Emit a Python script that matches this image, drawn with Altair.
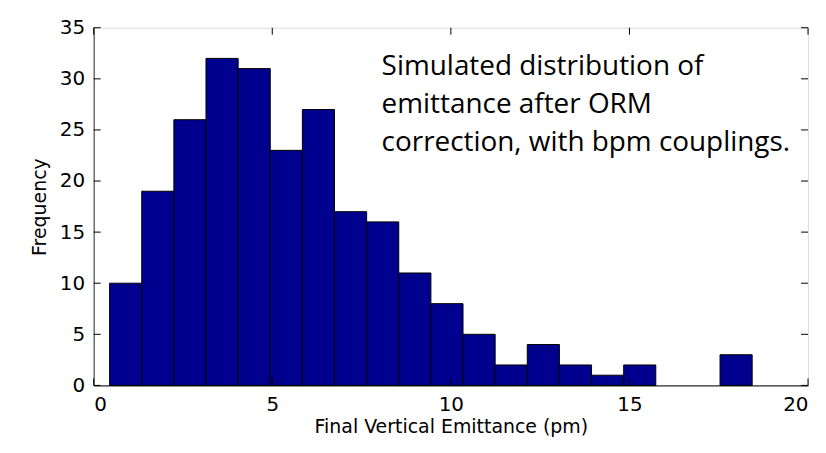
import altair as alt
import pandas as pd

# Histogram data
bin_start = 0.446
bin_width = 0.8995
counts = [10, 19, 26, 32, 31, 23, 27, 17, 16, 11, 8, 5, 2, 4, 2, 1, 2, 0, 0, 3]

x_ticks = [0, 5, 10, 15, 20]
y_ticks = [0, 5, 10, 15, 20, 25, 30, 35]

note_lines = [
    "Simulated distribution of",
    "emittance after ORM",
    "correction, with bpm couplings.",
]

W, H = 717, 359
TICK = 7
FONT = "DejaVu Sans"

bars = pd.DataFrame({
    "lo": [bin_start + i * bin_width for i in range(len(counts))],
    "hi": [bin_start + (i + 1) * bin_width for i in range(len(counts))],
    "count": counts,
})
bars = bars[bars["count"] > 0]

xscale = alt.Scale(domain=[0, 20], nice=False, zero=False)
yscale = alt.Scale(domain=[0, 35], nice=False)

base_bars = alt.Chart(bars).mark_rect(
    color="#00008F", stroke="#000000", strokeWidth=1
).encode(
    x=alt.X("lo:Q", scale=xscale, axis=alt.Axis(
        values=x_ticks, title="Final Vertical Emittance (pm)", tickSize=0,
        labelPadding=9, labelFontSize=20, titleFontSize=19, labelFont=FONT,
        titleFont=FONT, titleFontWeight="normal", titleColor="#000",
        labelColor="#000", domainColor="#000", titlePadding=3, grid=False,
    )),
    x2="hi:Q",
    y=alt.Y("count:Q", scale=yscale, axis=alt.Axis(
        values=y_ticks, title="Frequency", tickSize=0, labelPadding=9,
        labelFontSize=20, titleFontSize=19, labelFont=FONT, titleFont=FONT,
        titleFontWeight="normal", titleColor="#000", labelColor="#000",
        domainColor="#333", titlePadding=10, grid=False,
    )),
    y2=alt.datum(0),
)

xt = pd.DataFrame({"v": x_ticks})
yt = pd.DataFrame({"v": y_ticks})

bottom_ticks = alt.Chart(xt).mark_rule(color="#000", strokeWidth=1).encode(
    x=alt.X("v:Q", scale=xscale), y=alt.value(H), y2=alt.value(H - TICK))
top_ticks = alt.Chart(xt).mark_rule(color="#000", strokeWidth=1).encode(
    x=alt.X("v:Q", scale=xscale), y=alt.value(0), y2=alt.value(TICK))
left_ticks = alt.Chart(yt).mark_rule(color="#000", strokeWidth=1).encode(
    y=alt.Y("v:Q", scale=yscale), x=alt.value(0), x2=alt.value(TICK))
right_ticks = alt.Chart(yt).mark_rule(color="#000", strokeWidth=1).encode(
    y=alt.Y("v:Q", scale=yscale), x=alt.value(W - TICK), x2=alt.value(W))

note_df = pd.DataFrame({"t": ["\n".join(note_lines)]})
note = alt.Chart(note_df).mark_text(
    align="left", baseline="alphabetic", font="Open Sans", fontSize=28,
    color="#000", lineBreak="\n", lineHeight=38.5,
).encode(
    x=alt.value(289),
    y=alt.value(47),
    text="t:N",
)

chart = alt.layer(
    base_bars, bottom_ticks, top_ticks, left_ticks, right_ticks, note
).properties(
    width=W, height=H,
    autosize=alt.AutoSizeParams(type="none"),
    padding={"left": 86, "top": 19, "right": 10, "bottom": 58},
).configure_view(stroke="#000", strokeWidth=1).configure(background="white")

chart.save("out.html", embed_options={"renderer": "svg", "actions": False})
